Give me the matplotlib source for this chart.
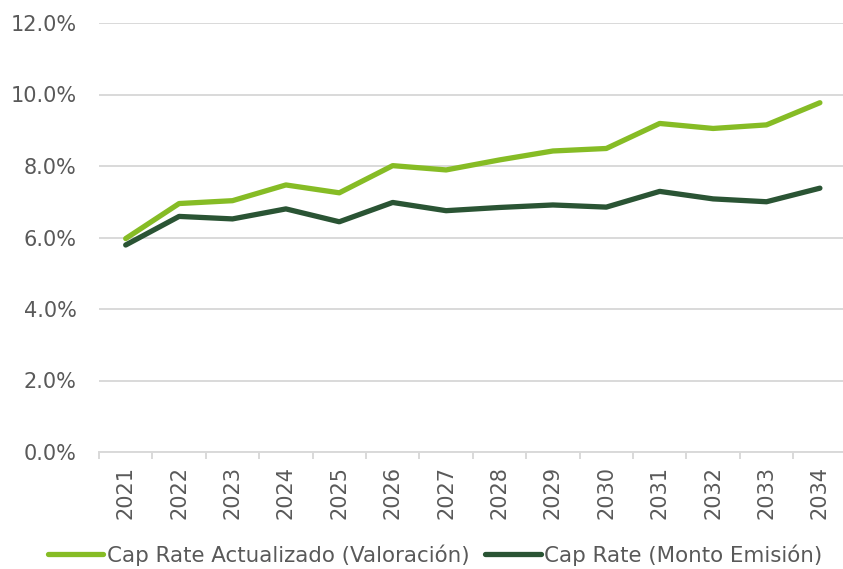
import matplotlib
matplotlib.use("Agg")
import matplotlib.pyplot as plt
from matplotlib.ticker import FuncFormatter, FixedLocator

years = ["2021", "2022", "2023", "2024", "2025", "2026", "2027",
         "2028", "2029", "2030", "2031", "2032", "2033", "2034"]
cap_rate_valoracion = [5.97, 6.95, 7.03, 7.47, 7.25, 8.01, 7.89,
                       8.17, 8.42, 8.49, 9.19, 9.05, 9.15, 9.77]
cap_rate_emision = [5.79, 6.59, 6.52, 6.80, 6.44, 6.98, 6.75,
                    6.84, 6.91, 6.85, 7.29, 7.08, 7.00, 7.38]
series_names = ["Cap Rate Actualizado (Valoración)", "Cap Rate (Monto Emisión)"]

plt.rcParams['font.family'] = ['DejaVu Sans']
fig = plt.figure(figsize=(8.43, 5.69), dpi=100)
W, H = 843, 569
left, right, bottom, top = 99, 846.6, 452, 23
ax = fig.add_axes([left / W, 1 - bottom / H, (right - left) / W, (bottom - top) / H])

x = list(range(len(years)))
l1, = ax.plot(x, cap_rate_valoracion, color="#86BC25", lw=3.8, solid_capstyle="round",
              solid_joinstyle="round", label=series_names[0], zorder=3)
l2, = ax.plot(x, cap_rate_emision, color="#2A5434", lw=3.8, solid_capstyle="round",
              solid_joinstyle="round", label=series_names[1], zorder=3)

ax.set_xlim(-0.5, len(years) - 0.5)
ax.set_ylim(0, 12)
ax.set_yticks([0, 2, 4, 6, 8, 10, 12])
ax.yaxis.set_major_formatter(FuncFormatter(lambda v, p: f"{v:.1f}%"))
ax.grid(axis="y", color="#D9D9D9", lw=1.4)
ax.set_axisbelow(True)
for s in ["top", "right", "left"]:
    ax.spines[s].set_visible(False)
ax.spines["bottom"].set_color("#D9D9D9")
ax.spines["bottom"].set_linewidth(1.4)

ax.set_xticks(x)
ax.set_xticklabels(years, rotation=90)
ax.xaxis.set_minor_locator(FixedLocator([i - 0.5 for i in range(len(years) + 1)]))
ax.tick_params(axis="x", which="major", length=0, pad=10, labelsize=15, labelcolor="#595959")
ax.tick_params(axis="x", which="minor", length=5, width=1.4, color="#D9D9D9")
ax.tick_params(axis="y", length=0, pad=16, labelsize=15, labelcolor="#595959")

leg = fig.legend(handles=[l1, l2], loc="center", bbox_to_anchor=(435 / W, 1 - 555 / H),
                 ncol=2, frameon=False, fontsize=15.4, handlelength=2.6, handletextpad=0.15,
                 columnspacing=0.75, labelcolor="#595959", borderaxespad=0, borderpad=0)

fig.savefig("out.png", dpi=100)
